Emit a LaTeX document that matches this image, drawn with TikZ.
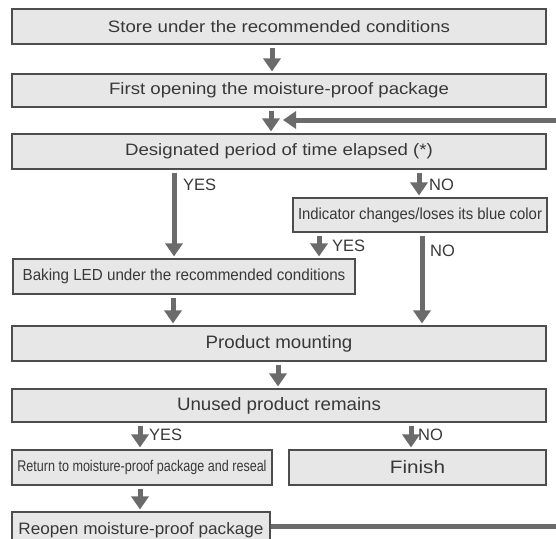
\documentclass[tikz,border=0pt]{standalone}
\usepackage{fontspec}
\setmainfont{Liberation Sans}
\usetikzlibrary{arrows.meta}
\definecolor{arr}{HTML}{6B6B6B}
\definecolor{boxfill}{HTML}{E7E7E7}
\definecolor{boxline}{HTML}{4D4D4D}
\definecolor{txt}{HTML}{383838}
\newcommand{\tx}[3]{\fontsize{#1}{#1}\selectfont\scalebox{#2}[1]{#3}}
\begin{document}
\begin{tikzpicture}[x=1pt,y=-1pt,
 box/.style={draw=boxline, fill=boxfill, line width=1.1pt, inner sep=0pt, text=txt},
 flow/.style={draw=arr, line width=5pt, shorten <=3pt, shorten >=2pt, -{Triangle[width=17pt,length=13pt]}},
 lbl/.style={text=txt, anchor=west, inner sep=0pt, font=\fontsize{16.5}{16.5}\selectfont}]
\path[use as bounding box, clip] (0,0) rectangle (556,538);

% boxes
\node[box, minimum width=534pt, minimum height=35pt] (b1) at (279,26.5) {\tx{16.5}{1.13}{Store under the recommended conditions}};
\node[box, minimum width=534pt, minimum height=33pt] (b2) at (279,90.5) {\tx{16.5}{1.13}{First opening the moisture-proof package}};
\node[box, minimum width=534pt, minimum height=35pt] (b3) at (279,151.5) {\tx{16.5}{1.13}{Designated period of time elapsed (*)}};
\node[box, minimum width=254pt, minimum height=34pt] (b4) at (420,215) {\tx{16}{0.93}{Indicator changes/loses its blue color}};
\node[box, minimum width=342pt, minimum height=35pt] (b5) at (184,276.5) {\tx{16}{0.95}{Baking LED under the recommended conditions}};
\node[box, minimum width=534pt, minimum height=35pt] (b6) at (279,343.5) {\tx{18}{1.04}{Product mounting}};
\node[box, minimum width=534pt, minimum height=33pt] (b7) at (279,405.5) {\tx{18}{1.04}{Unused product remains}};
\node[box, minimum width=260pt, minimum height=35pt] (b8) at (142,467.5) {\tx{15.5}{0.81}{Return to moisture-proof package and reseal}};
\node[box, minimum width=257pt, minimum height=35pt] (b9) at (417.5,467.5) {\tx{18}{1.15}{Finish}};
\node[box, minimum width=258pt, minimum height=34pt, text depth=0pt] (b10) at (141,529) {\raisebox{1.5pt}{\tx{16.5}{1.04}{Reopen moisture-proof package}}};

% x positions of connectors
\coordinate (xa) at (272,0);
\coordinate (xb) at (271,0);
\coordinate (xyes) at (174,0);
\coordinate (xno) at (419,0);
\coordinate (xyes2) at (319,0);
\coordinate (xno2) at (422,0);
\coordinate (xc) at (173,0);
\coordinate (xd) at (278,0);
\coordinate (xe) at (140,0);
\coordinate (xf) at (411,0);

% connectors
\draw[flow] (b1.south -| xa) -- (b2.north -| xa);
\draw[flow] (b2.south -| xb) -- (b3.north -| xb);
\draw[flow] (b3.south -| xyes) -- (b5.north -| xyes);
\draw[flow] (b3.south -| xno) -- (b4.north -| xno);
\draw[flow] (b4.south -| xyes2) -- (b5.north -| xyes2);
\draw[flow] (b4.south -| xno2) -- (b6.north -| xno2);
\draw[flow] (b5.south -| xc) -- (b6.north -| xc);
\draw[flow] (b6.south -| xd) -- (b7.north -| xd);
\draw[flow] (b7.south -| xe) -- (b8.north -| xe);
\draw[flow] (b7.south -| xf) -- (b9.north -| xf);
\draw[flow] (b8.south -| xe) -- (b10.north -| xe);
% feedback loop
\coordinate (fb1) at (600,526);
\coordinate (fb2) at (600,120);
\coordinate (fbend) at (283,120);
\draw[draw=arr, line width=5pt, -{Triangle[width=17pt,length=13pt]}] (b10.east |- fb1) -- (fb1) -- (fb2) -- (fbend);

% labels
\node[lbl] (l1) at (183,185) {YES};
\node[lbl] (l2) at (429,185) {NO};
\node[lbl] (l3) at (332,246) {YES};
\node[lbl] (l4) at (430,251) {NO};
\node[lbl] (l5) at (149,435) {YES};
\node[lbl] (l6) at (418,435) {NO};
\end{tikzpicture}
\end{document}
